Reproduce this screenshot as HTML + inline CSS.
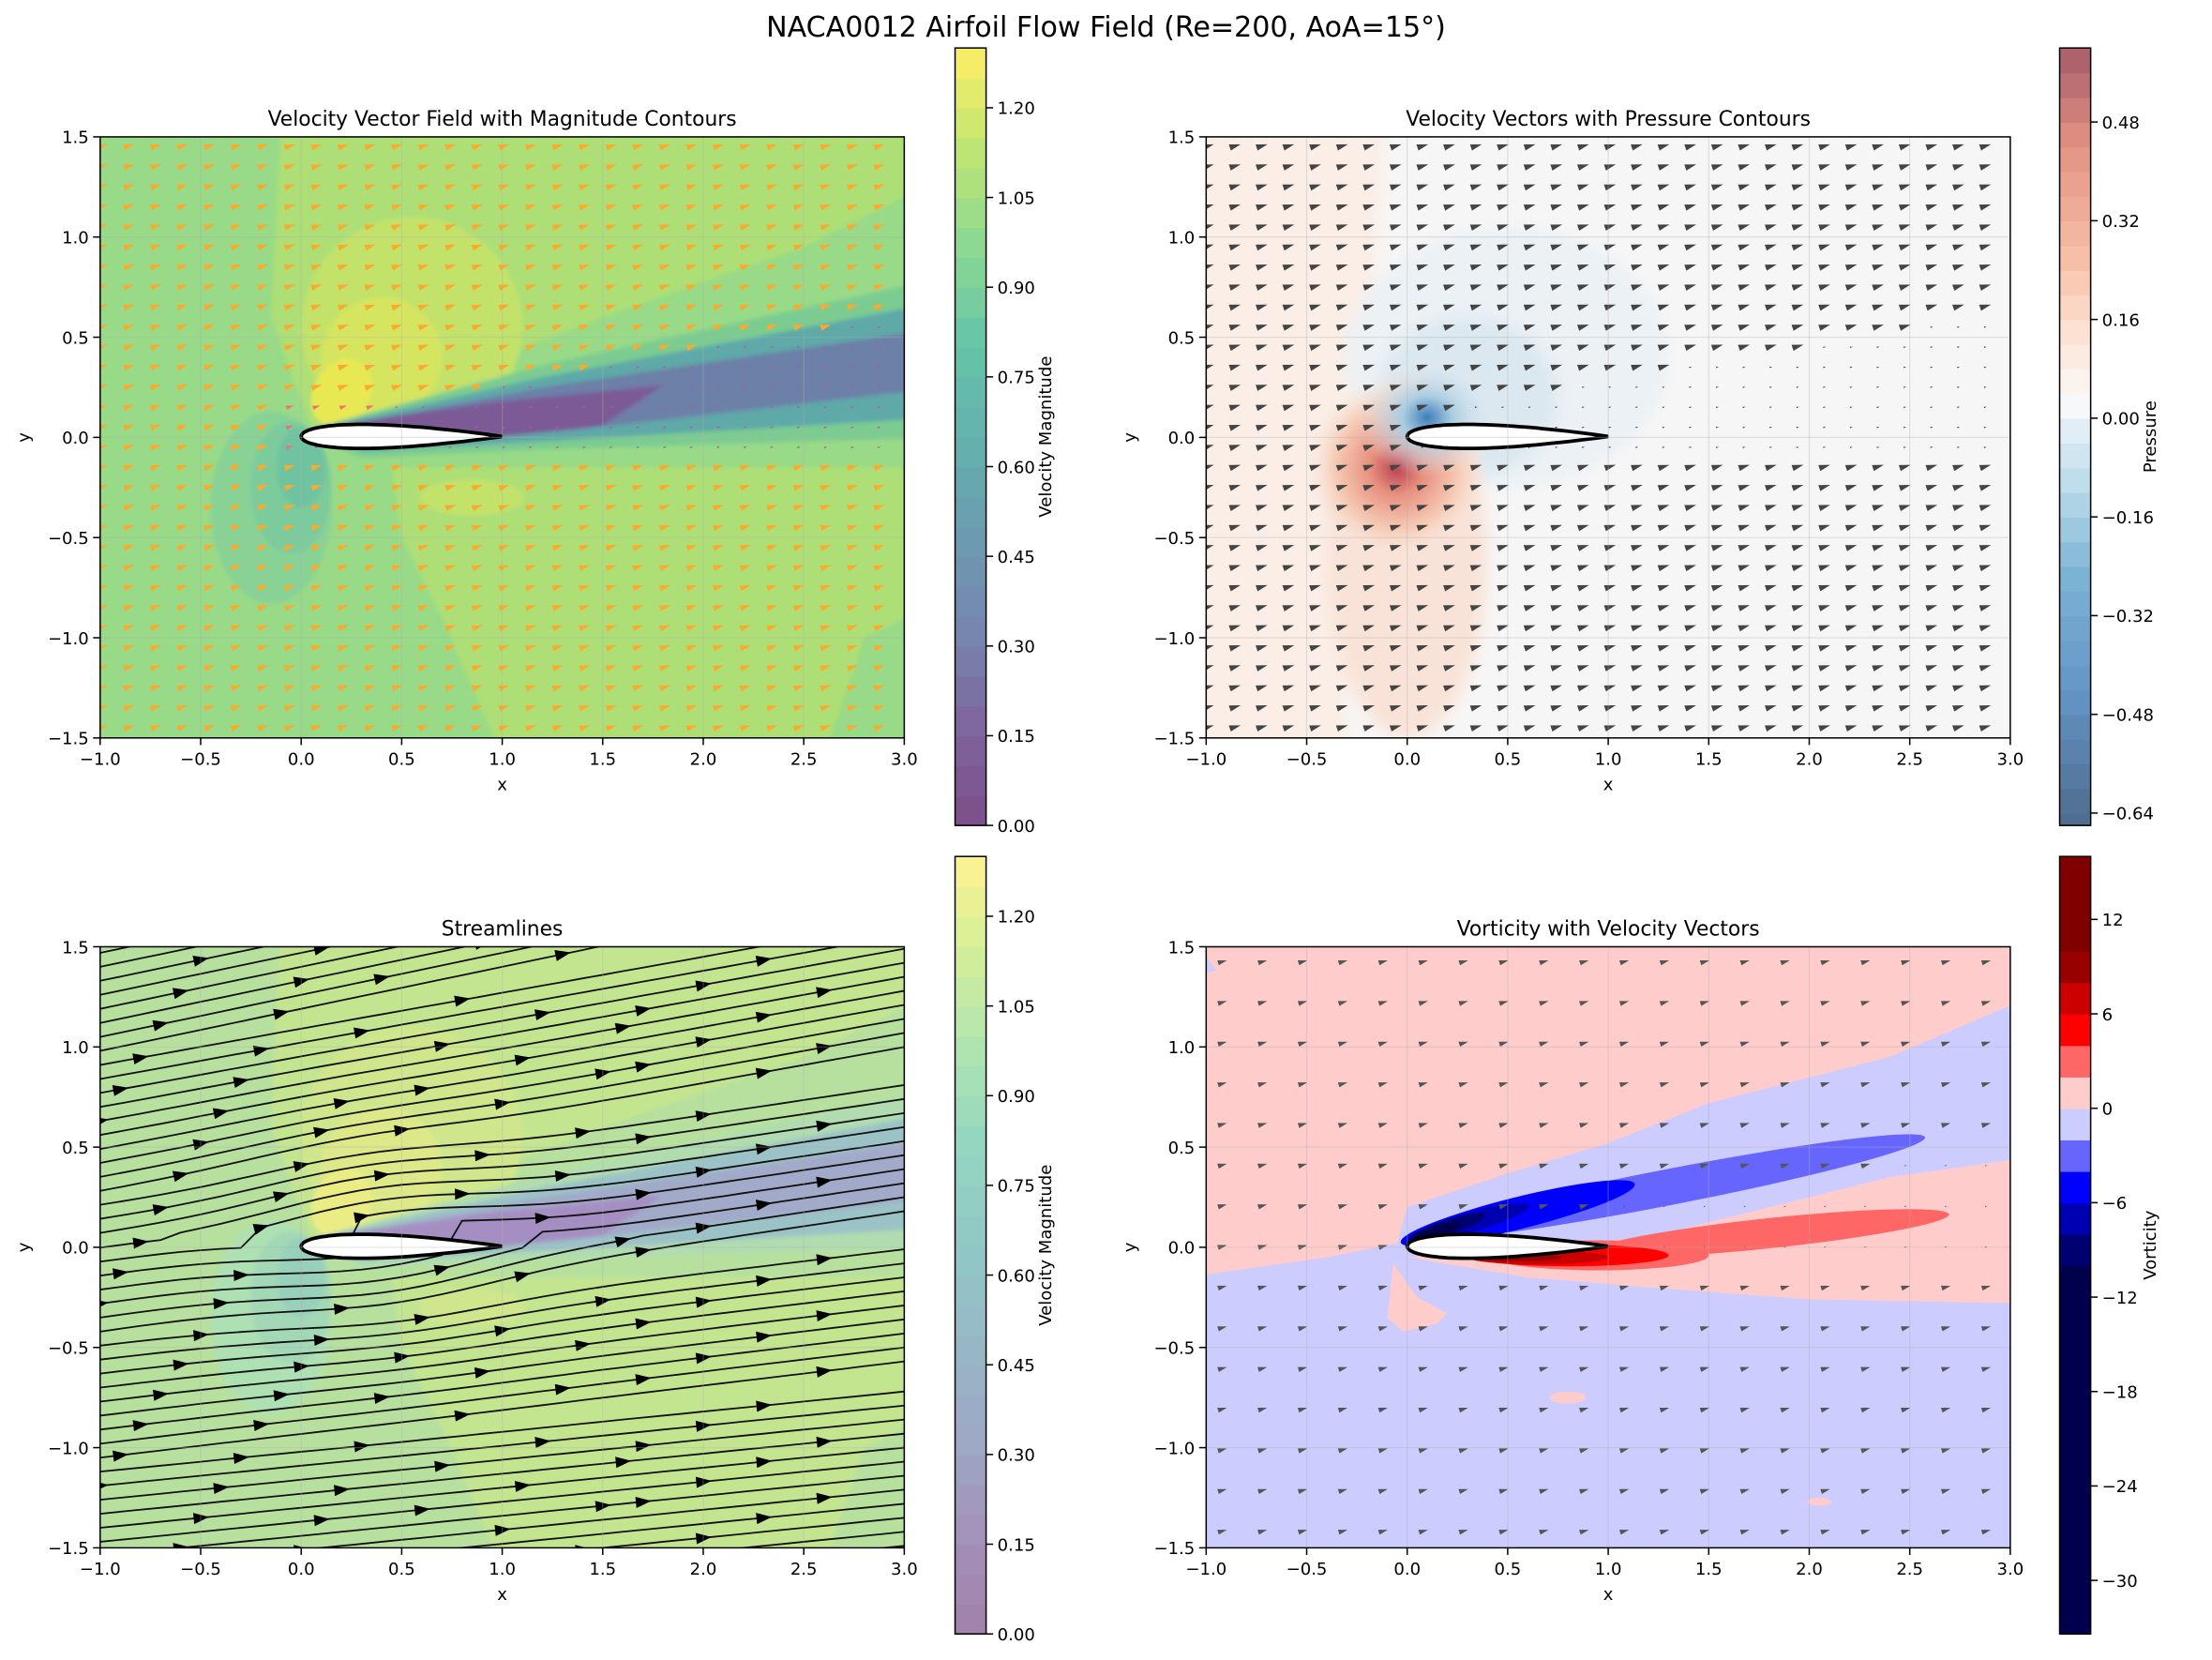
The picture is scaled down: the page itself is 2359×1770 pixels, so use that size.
<!DOCTYPE html>
<html><head><meta charset="utf-8">
<style>
html,body{margin:0;padding:0;background:#fff;width:2359px;height:1770px;overflow:hidden;}
svg{display:block;position:absolute;left:0;top:0;}
text{font-family:"DejaVu Sans","Liberation Sans",sans-serif;fill:#000;}
</style></head>
<body>
<svg id="fig" width="2359" height="1770" viewBox="0 0 1568 1176.5" xmlns="http://www.w3.org/2000/svg">
<defs>
<filter id="blur6" x="-20%" y="-20%" width="140%" height="140%"><feGaussianBlur stdDeviation="5"/></filter>
<filter id="blur2" x="-20%" y="-20%" width="140%" height="140%"><feGaussianBlur stdDeviation="1.5"/></filter>
<radialGradient id="presRed" cx="0.5" cy="0.5" r="0.5">
<stop offset="0" stop-color="#b8404f"/><stop offset="0.3" stop-color="#e8907e"/><stop offset="0.7" stop-color="#f6cdb8"/><stop offset="1" stop-color="#f9e4d9" stop-opacity="0"/></radialGradient>
<radialGradient id="presBlue" cx="0.5" cy="0.5" r="0.5">
<stop offset="0" stop-color="#3f7fb8"/><stop offset="0.35" stop-color="#a8cce2"/><stop offset="1" stop-color="#e3edf4" stop-opacity="0"/></radialGradient>
</defs>
<text x="784" y="26" font-size="20" text-anchor="middle">NACA0012 Airfoil Flow Field (Re=200, AoA=15°)</text>
</svg>
<script>
// ---- data arrays ----
const xTicks = [-1.0,-0.5,0.0,0.5,1.0,1.5,2.0,2.5,3.0];
const yTicks = [-1.5,-1.0,-0.5,0.0,0.5,1.0,1.5];
const velCbarTicks = [0.00,0.15,0.30,0.45,0.60,0.75,0.90,1.05,1.20];
const presCbarTicks = [-0.64,-0.48,-0.32,-0.16,0.00,0.16,0.32,0.48];
const vortCbarTicks = [-30,-24,-18,-12,-6,0,6,12];
const velRange = [0,1.30];
const presRange = [-0.66,0.60];
const vortRange = [-33.4,16];
const presLevels = [-0.66,-0.64,-0.60,-0.56,-0.52,-0.48,-0.44,-0.40,-0.36,-0.32,-0.28,-0.24,-0.20,-0.16,-0.12,-0.08,-0.04,0.00,0.04,0.08,0.12,0.16,0.20,0.24,0.28,0.32,0.36,0.40,0.44,0.48,0.52,0.56,0.60];
const vortLevels = [-33.4,-10,-8,-6,-4,-2,0,2,4,6,8,10,16];
const vortColors = ['#00004c','#000070','#0000b3','#0000ff','#6666ff','#ccccff','#ffcccc','#ff6666','#ff0000','#cc0000','#990000','#800000'];
const flowAngleDeg = [6,5,4];
const streamSlopes = [0.10,0.12,0.15,0.18,0.21];

const NS="http://www.w3.org/2000/svg";
const svg=document.getElementById('fig');
function el(tag,attrs,parent){const e=document.createElementNS(NS,tag);for(const k in attrs)e.setAttribute(k,attrs[k]);(parent||svg).appendChild(e);return e;}

const panels=[
 {id:'velocity-vector',x0:71,y0:97,title:'Velocity Vector Field with Magnitude Contours'},
 {id:'pressure',x0:855,y0:97,title:'Velocity Vectors with Pressure Contours'},
 {id:'streamlines',x0:71,y0:671,title:'Streamlines'},
 {id:'vorticity',x0:855,y0:671,title:'Vorticity with Velocity Vectors'}];
const W=570,H=426;
function mk(p){return {X:x=>p.x0+(x+1)/4*W,Y:y=>p.y0+(1.5-y)/3*H};}

function poly(g,pts,f,fill,extra){const d=pts.map((q,i)=>(i?'L':'M')+f.X(q[0]).toFixed(1)+','+f.Y(q[1]).toFixed(1)).join('')+'Z';return el('path',Object.assign({d:d,fill:fill},extra||{}),g);}
function ell(g,cx,cy,rx,ry,rot,f,fill){return el('ellipse',{cx:f.X(cx),cy:f.Y(cy),rx:rx/4*W,ry:ry/3*H,fill:fill,transform:`rotate(${-rot} ${f.X(cx)} ${f.Y(cy)})`},g);}

function airfoilPath(f){
 const up=[],lo=[];
 for(let i=0;i<=40;i++){const t=i/40,x=t*t;const yt=5*0.12*(0.2969*Math.sqrt(x)-0.126*x-0.3516*x*x+0.2843*x**3-0.1036*x**4);up.push([x,yt+0.005]);lo.push([x,-yt+0.005]);}
 const pts=up.concat(lo.reverse());
 return pts.map((q,i)=>(i?'L':'M')+f.X(q[0]).toFixed(1)+','+f.Y(q[1]).toFixed(1)).join('')+'Z';
}

function arrow(g,x,y,ang,s,color,name){
 const tri=el('path',{d:`M${x-4*s},${y-2*s}L${x+4*s},${y-1.4*s}L${x-3*s},${y+2.2*s}Z`,fill:color,transform:`rotate(${-ang} ${x} ${y})`},g);
 
 
}

function axes(p,f){
 const g=el('g',{});
 
 
 xTicks.forEach(v=>{const l=el('line',{x1:f.X(v),x2:f.X(v),y1:p.y0,y2:p.y0+H,stroke:'#b0b0b0','stroke-opacity':0.35,'stroke-width':0.8},g);});
 yTicks.forEach(v=>{const l=el('line',{x1:p.x0,x2:p.x0+W,y1:f.Y(v),y2:f.Y(v),stroke:'#b0b0b0','stroke-opacity':0.35,'stroke-width':0.8},g);});
 const fr=el('rect',{x:p.x0,y:p.y0,width:W,height:H,fill:'none',stroke:'#000','stroke-width':1},g);
 
 xTicks.forEach(v=>{el('line',{x1:f.X(v),x2:f.X(v),y1:p.y0+H,y2:p.y0+H+5,stroke:'#000','stroke-width':1},g);
  const t=el('text',{x:f.X(v),y:p.y0+H+19,'font-size':12,'text-anchor':'middle'},g);t.textContent=(v<0?'\u2212':'')+Math.abs(v).toFixed(1);});
 yTicks.forEach(v=>{el('line',{x1:p.x0-5,x2:p.x0,y1:f.Y(v),y2:f.Y(v),stroke:'#000','stroke-width':1},g);
  const t=el('text',{x:p.x0-8,y:f.Y(v)+4.5,'font-size':12,'text-anchor':'end'},g);t.textContent=(v<0?'\u2212':'')+Math.abs(v).toFixed(1);});
 const xl=el('text',{x:p.x0+W/2,y:p.y0+H+37,'font-size':12,'text-anchor':'middle'},g);xl.textContent='x';
 const yl=el('text',{x:p.x0-50,y:p.y0+H/2,'font-size':12,'text-anchor':'middle',transform:`rotate(-90 ${p.x0-50} ${p.y0+H/2})`},g);yl.textContent='y';
 const tt=el('text',{x:p.x0+W/2,y:p.y0-8,'font-size':14.5,'text-anchor':'middle'},g);tt.textContent=p.title;
}

function clipGroup(p,i){
 const cp=el('clipPath',{id:'clip'+i});el('rect',{x:p.x0,y:p.y0,width:W,height:H},cp);
 const g=el('g',{'clip-path':`url(#clip${i})`});
 
 
 return g;
}

function lerpC(stops,t){t=Math.max(0,Math.min(1,t));for(let i=1;i<stops.length;i++){if(t<=stops[i][0]){const a=stops[i-1],b=stops[i],u=(t-a[0])/(b[0]-a[0]);return [0,1,2].map(k=>Math.round(a[1][k]+(b[1][k]-a[1][k])*u));}}return stops[stops.length-1][1];}
const viridis=[[0,[68,1,84]],[0.13,[72,36,117]],[0.25,[59,82,139]],[0.38,[44,114,142]],[0.5,[33,145,140]],[0.63,[39,173,129]],[0.75,[94,201,98]],[0.88,[170,220,50]],[1,[253,231,37]]];
function withAlpha(c,a){return `rgb(${c.map(v=>Math.round(v*a+255*(1-a))).join(',')})`;}
const rdbu=[[0,[5,48,97]],[0.15,[33,102,172]],[0.3,[67,147,195]],[0.4,[146,197,222]],[0.48,[209,229,240]],[0.52,[247,247,247]],[0.6,[253,219,199]],[0.7,[244,165,130]],[0.85,[214,96,77]],[1,[103,0,31]]];

function colorbar(x,y0,y1,range,ticks,fmt,colorFn,levels,label,name){
 const g=el('g',{});
 
 
 const Yc=v=>y1-(v-range[0])/(range[1]-range[0])*(y1-y0);
 const lv=levels||Array.from({length:27},(_,i)=>range[0]+(range[1]-range[0])*i/26);
 for(let i=0;i<lv.length-1;i++){const a=lv[i],b=Math.min(lv[i+1],range[1]);el('rect',{x:x,y:Yc(b),width:22,height:Yc(a)-Yc(b)+0.5,fill:colorFn((a+b)/2,i)},g);}
 el('rect',{x:x,y:y0,width:22,height:y1-y0,fill:'none',stroke:'#000','stroke-width':1},g);
 ticks.forEach(v=>{el('line',{x1:x+22,x2:x+27,y1:Yc(v),y2:Yc(v),stroke:'#000'},g);const t=el('text',{x:x+30,y:Yc(v)+4.5,'font-size':12},g);t.textContent=fmt(v);});
 const lx=x+68,ly=(y0+y1)/2;
 const t=el('text',{x:lx,y:ly,'font-size':12,'text-anchor':'middle',transform:`rotate(-90 ${lx} ${ly})`},g);t.textContent=label;
}
const fmt2=v=>(v<0?'\u2212':'')+Math.abs(v).toFixed(2);
const fmt0=v=>(v<0?'\u2212':'')+Math.abs(v).toFixed(0);

function velBackground(g,f,alpha){
 const base=alpha>0.6?['#98da87','#addf76','#c2e26a','#d6e55e','#e8e853','#88d296','#7bcb9c','#6fc3a0','#7ccc92','#5fa9a8','#6c80a8','#7c5a96']
                     :['#b7e09e','#c4e590','#cfe68c','#dde988','#ecec84','#ade0b2','#a3d8b6','#98d0bb','#b0dcb0','#9bc2c6','#a1abc9','#a58fc2'];
 const bg=el('g',{filter:'url(#blur2)'},g);
 poly(bg,[[-0.1,1.6],[3.2,1.6],[3.2,1.3],[2.5,0.95],[1.5,0.6],[0.6,0.25],[0.05,0.05],[-0.15,0.6]],f,base[1]);
 poly(bg,[[0.45,-0.15],[3.0,-0.15],[3.2,-0.3],[3.2,-0.8],[2.8,-1.0],[2.6,-1.6],[1.0,-1.6],[0.7,-0.9],[0.5,-0.5]],f,base[1]);
 ell(bg,0.55,0.55,0.55,0.55,0,f,base[2]);
 ell(bg,0.4,0.4,0.3,0.3,0,f,base[3]);
 ell(bg,0.2,0.22,0.14,0.18,-30,f,base[4]);
 ell(bg,-0.15,-0.35,0.3,0.48,0,f,base[5]);
 ell(bg,-0.05,-0.25,0.2,0.33,0,f,base[6]);
 ell(bg,0.0,-0.15,0.12,0.2,0,f,base[7]);
 ell(bg,0.85,-0.3,0.26,0.09,0,f,base[2]);
 poly(bg,[[0.0,0.03],[1.2,0.36],[3.2,0.8],[3.2,0.0],[1.2,-0.06],[0.3,-0.1]],f,base[8]);
 poly(bg,[[0.1,0.05],[1.2,0.3],[3.2,0.68],[3.2,0.1],[1.2,-0.02],[0.3,-0.07]],f,base[9]);
 poly(bg,[[0.15,0.05],[1.2,0.25],[3.2,0.55],[3.2,0.25],[1.3,0.03],[0.3,-0.05]],f,base[10]);
 poly(bg,[[0.15,0.06],[1.0,0.18],[1.8,0.26],[1.5,0.06],[0.5,-0.05]],f,base[11]);
}

// ===== Panel 1 =====
(function(){const p=panels[0],f=mk(p),g=clipGroup(p,0);
 el('rect',{x:p.x0,y:p.y0,width:W,height:H,fill:'#98da87'},g);
 velBackground(g,f,0.7);
 for(let j=0;j<30;j++){const y=-1.45+j*0.1;for(let i=0;i<30;i++){const x=-0.99+i*0.1333;
  let col='#fca92e',s=1;
  const inW=(y>-0.08&&y<0.08+0.18*x) && x>0.05;
  if(inW){col='#c2509a';s=0.3;} else if(y>-0.08&&y<0.25&&x>-0.1&&x<1.3){col='#f07070';s=0.7;}
  arrow(g,f.X(x),f.Y(y),flowAngleDeg[0],s,col,'velocity-arrow');}}
 const af=el('path',{d:airfoilPath(f),fill:'#fff',stroke:'#000','stroke-width':2.5},g);
 axes(p,f);
 colorbar(677,34,585,velRange,velCbarTicks,fmt2,v=>withAlpha(lerpC(viridis,v/1.3),0.7),null,'Velocity Magnitude','velocity-colorbar');
})();

// ===== Panel 2 =====
(function(){const p=panels[1],f=mk(p),g=clipGroup(p,1);
 el('rect',{x:p.x0,y:p.y0,width:W,height:H,fill:'#f7f6f6'},g);
 const bg=el('g',{filter:'url(#blur6)'},g);
 poly(bg,[[-1.1,1.6],[-0.1,1.6],[-0.2,0.3],[-0.3,0.0],[-0.3,-1.6],[-1.1,-1.6]],f,'#faeee6');
 ell(bg,0.5,0.4,0.8,0.65,0,f,'#ebf1f5');
 ell(bg,0.3,0.2,0.45,0.4,0,f,'#dce8f0');
 ell(bg,0.0,-0.6,0.4,0.9,0,f,'#f9e3d8');
 el('ellipse',{cx:f.X(-0.05),cy:f.Y(-0.15),rx:0.45/4*W,ry:0.45/3*H,fill:'url(#presRed)'},g);
 el('ellipse',{cx:f.X(0.1),cy:f.Y(0.1),rx:0.35/4*W,ry:0.3/3*H,fill:'url(#presBlue)'},g);
 for(let j=0;j<30;j++){const y=-1.45+j*0.1;for(let i=0;i<30;i++){const x=-0.99+i*0.1333;
  let s=1.05;const inW=(y>-0.05&&y<0.1+0.18*x)&&x>0.05;if(inW)s=0.25;
  arrow(g,f.X(x),f.Y(y),flowAngleDeg[1],s,'#444','velocity-arrow');}}
 const af=el('path',{d:airfoilPath(f),fill:'#fff',stroke:'#000','stroke-width':2.5},g);
 axes(p,f);
 colorbar(1460,34,585,presRange,presCbarTicks,fmt2,v=>withAlpha(lerpC(rdbu,(v+0.64)/1.28),0.7),presLevels,'Pressure','pressure-colorbar');
})();

// ===== Panel 3 =====
(function(){const p=panels[2],f=mk(p),g=clipGroup(p,2);
 el('rect',{x:p.x0,y:p.y0,width:W,height:H,fill:'#b7e09e'},g);
 velBackground(g,f,0.5);
 for(let k=0;k<58;k++){
  const y0=-2.1+k*0.07;
  const s=streamSlopes[Math.max(0,Math.min(4,Math.floor((y0+1.8)/3.4*5)))];
  const pts=[];for(let t=0;t<=40;t++){const x=-1+t*0.1;let y=y0+s*(x+1);
   const dy=y-0.05,dx=x-0.4;y+=0.1*Math.exp(-(dx*dx)/0.5-(dy*dy)/0.25)*Math.sign(dy||1);pts.push([x,y]);}
  const d=pts.map((q,i)=>(i?'L':'M')+f.X(q[0]).toFixed(1)+','+f.Y(q[1]).toFixed(1)).join('');
  const l=el('path',{d:d,fill:'none',stroke:'#111','stroke-width':1.2},g);
  [ (k*7)%13, 13+(k*5)%14, 27+(k*3)%12 ].forEach(ti=>{if(ti>=40)return;const a=pts[ti],b=pts[ti+1];const ang=Math.atan2(-(f.Y(b[1])-f.Y(a[1])),f.X(b[0])-f.X(a[0]));
   const x=f.X(a[0]),y=f.Y(a[1]);const c=Math.cos(ang),sn=Math.sin(ang);
   const tri=el('path',{d:`M${x+6*c},${y-6*sn}L${x-5*c-4*sn},${y+5*sn-4*c}L${x-5*c+4*sn},${y+5*sn+4*c}Z`,fill:'#000'},g);});
 }
 const af=el('path',{d:airfoilPath(f),fill:'#fff',stroke:'#000','stroke-width':2.5},g);
 axes(p,f);
 colorbar(677,607,1158,velRange,velCbarTicks,fmt2,v=>withAlpha(lerpC(viridis,v/1.3),0.5),null,'Velocity Magnitude','streamline-colorbar');
})();

// ===== Panel 4 =====
(function(){const p=panels[3],f=mk(p),g=clipGroup(p,3);
 el('rect',{x:p.x0,y:p.y0,width:W,height:H,fill:'#ccccff'},g);
 poly(g,[[-1.1,1.6],[3.1,1.6],[3.1,1.25],[2.4,0.95],[1.5,0.72],[1.0,0.52],[0.5,0.37],[0.0,0.2],[-0.05,0.02],[-0.4,-0.05],[-1.1,-0.15]],f,'#ffcccc');
 poly(g,[[-1.0,1.45],[-0.95,1.38],[-1.1,1.35]],f,'#ccccff');
 poly(g,[[0.0,-0.05],[0.6,-0.15],[1.2,-0.2],[2.0,-0.26],[3.1,-0.28],[3.1,0.45],[2.4,0.35],[1.2,0.05]],f,'#ffcccc');
 poly(g,[[-0.07,-0.08],[0.05,-0.25],[0.2,-0.33],[0.15,-0.38],[-0.02,-0.42],[-0.1,-0.35]],f,'#ffcccc');
 ell(g,0.8,-0.75,0.09,0.03,0,f,'#ffcccc');ell(g,2.05,-1.27,0.06,0.02,0,f,'#ffcccc');
 ell(g,1.3,0.3,1.3,0.09,11,f,'#6666ff');
 ell(g,0.55,0.17,0.6,0.08,14,f,'#0000ff');
 ell(g,0.3,0.12,0.32,0.05,16,f,'#0000b3');
 ell(g,0.2,0.1,0.2,0.035,18,f,'#000070');
 ell(g,0.15,0.08,0.12,0.025,18,f,'#00004c');
 ell(g,1.8,0.07,0.9,0.075,6,f,'#ff6666');
 ell(g,0.95,-0.04,0.55,0.075,0,f,'#ff6666');
 ell(g,0.8,-0.04,0.5,0.055,0,f,'#ff0000');
 ell(g,0.65,-0.05,0.35,0.035,0,f,'#cc0000');
 ell(g,0.55,-0.05,0.22,0.02,0,f,'#990000');
 for(let j=0;j<16;j++){const y=-1.42+j*0.203;for(let i=0;i<20;i++){const x=-0.92+i*0.2;
  let s=0.85;const inW=(y>-0.02&&y<0.05+0.15*x)&&x>0.3;if(inW)s=0.2;
  arrow(g,f.X(x),f.Y(y),flowAngleDeg[2],s,'#555','velocity-arrow');}}
 const af=el('path',{d:airfoilPath(f),fill:'#fff',stroke:'#000','stroke-width':2.5},g);
 axes(p,f);
 colorbar(1460,607,1158,vortRange,vortCbarTicks,fmt0,(v,i)=>vortColors[i],vortLevels,'Vorticity','vorticity-colorbar');
})();
</script>
</body></html>
